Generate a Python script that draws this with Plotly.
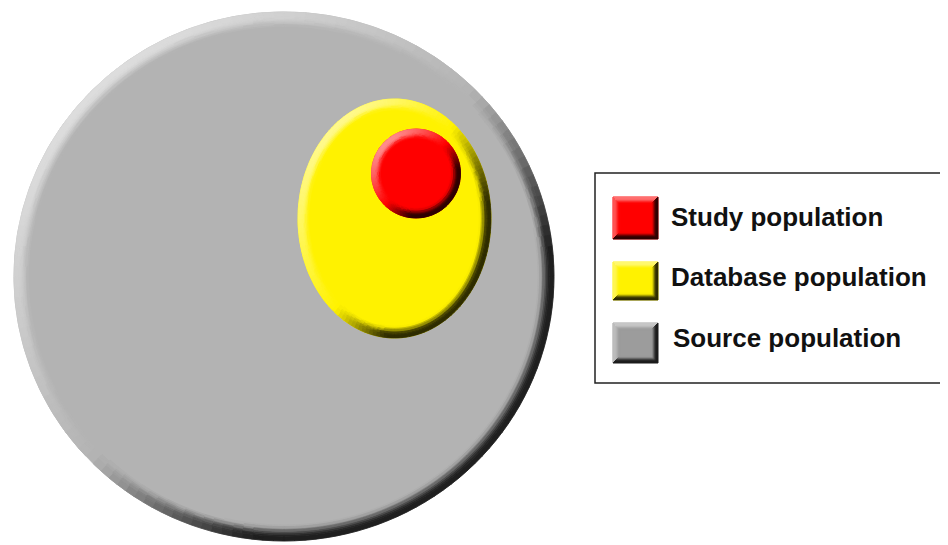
import numpy as np
import plotly.graph_objects as go

# ---- data ----
labels = ["Study population", "Database population", "Source population"]
base_colors = [(255, 0, 0), (255, 242, 0), (179, 179, 179)]

# ---- geometry (page pixel space, y downward) ----
W, H = 948, 545
PAGE_MARGIN = 8  # default body margin of the html page
ellipses = {  # label: (cx, cy, rx, ry, bevel width)
    "Source population": (284, 276.5, 270, 264.5, 16),
    "Database population": (394.5, 218.5, 96.5, 119.5, 12),
    "Study population": (416, 173.5, 44.5, 44.5, 10),
}
draw_order = ["Source population", "Database population", "Study population"]
squares = {
    "Study population": (613, 197, 658, 239),
    "Database population": (613, 262, 658, 300),
    "Source population": (613, 323, 658, 363),
}
square_tone = {"Study population": 1.0, "Database population": 1.0, "Source population": 0.87}
text_pos = {
    "Study population": (669, 217),
    "Database population": (669, 277),
    "Source population": (671, 338),
}
LIGHT, DARK = 0.55, 0.82
color_of = dict(zip(labels, base_colors))


def shade(base, m):
    if m >= 0:
        c = [b + (255 - b) * m * LIGHT for b in base]
    else:
        c = [b * (1 + m * DARK) for b in base]
    return "rgb(%d,%d,%d)" % tuple(int(round(v)) for v in c)


def falloff(t):
    u = np.clip((t - 0.3) / 0.7, 0, 1)
    return 1 - u * u * (3 - 2 * u)


def qm(s, f):
    s = np.clip(1.6 * s, -1, 1) if s < 0 else s
    return round(s * f * 40) / 40


def add_polys(fig, polys):
    groups = {}
    for c, xs, ys in polys:
        g = groups.setdefault(c, ([], []))
        g[0].extend(list(xs) + [xs[0], None])
        g[1].extend(list(ys) + [ys[0], None])
    for c, (xs, ys) in groups.items():
        fig.add_trace(go.Scatter(x=xs, y=ys, mode="lines", fill="toself",
                                 fillcolor=c, line=dict(color=c, width=0.8),
                                 hoverinfo="skip", showlegend=False))


def ellipse_polys(cx, cy, rx, ry, base, w, nb=10, ns=160):
    polys = []
    th = np.linspace(0, 2 * np.pi, 361)
    polys.append((shade(base, 0), cx + rx * np.cos(th), cy + ry * np.sin(th)))
    for j in range(nb):
        d0, d1 = w * j / nb, w * (j + 1) / nb
        f = falloff((j + 0.5) / nb)
        for k in range(ns):
            a0, a1 = 2 * np.pi * k / ns, 2 * np.pi * (k + 1) / ns
            am = (a0 + a1) / 2
            nx, ny = np.cos(am) / rx, np.sin(am) / ry
            n = np.hypot(nx, ny)
            s = -(nx + ny) / n / np.sqrt(2)
            m = qm(s, f)
            if m == 0:
                continue
            aa = np.linspace(a0, a1, 3)
            xs = np.concatenate([cx + (rx - d0) * np.cos(aa), cx + (rx - d1) * np.cos(aa[::-1])])
            ys = np.concatenate([cy + (ry - d0) * np.sin(aa), cy + (ry - d1) * np.sin(aa[::-1])])
            polys.append((shade(base, m), xs, ys))
    return polys


def square_polys(x0, y0, x1, y1, base, w=7, nb=7):
    polys = [(shade(base, 0), [x0, x1, x1, x0], [y0, y0, y1, y1])]
    for j in range(nb):
        d0, d1 = w * j / nb, w * (j + 1) / nb
        f = falloff((j + 0.5) / nb)
        sides = [
            (0.8, [x0 + d0, x1 - d0, x1 - d1, x0 + d1], [y0 + d0, y0 + d0, y0 + d1, y0 + d1]),
            (0.6, [x0 + d0, x0 + d1, x0 + d1, x0 + d0], [y0 + d0, y0 + d1, y1 - d1, y1 - d0]),
            (-1.0, [x1 - d0, x1 - d0, x1 - d1, x1 - d1], [y0 + d0, y1 - d0, y1 - d1, y0 + d1]),
            (-1.0, [x0 + d0, x1 - d0, x1 - d1, x0 + d1], [y1 - d0, y1 - d0, y1 - d1, y1 - d1]),
        ]
        for s, xs, ys in sides:
            m = qm(s, f)
            if m == 0:
                continue
            polys.append((shade(base, m), xs, ys))
    return polys


fig = go.Figure()
for lab in draw_order:
    cx, cy, rx, ry, w = ellipses[lab]
    add_polys(fig, ellipse_polys(cx, cy, rx, ry, color_of[lab], w))

for lab in labels:
    x0, y0, x1, y1 = squares[lab]
    base = tuple(v * square_tone[lab] for v in color_of[lab])
    add_polys(fig, square_polys(x0, y0, x1, y1, base))
    tx, ty = text_pos[lab]
    fig.add_annotation(x=tx, y=ty, text=lab, showarrow=False, xanchor="left",
                       yanchor="middle", xref="x", yref="y",
                       font=dict(family="Liberation Sans, Arial", size=26, color="#111111",
                                 weight="bold"))

fig.add_shape(type="rect", x0=595, y0=173, x1=955, y1=383, xref="x", yref="y",
              line=dict(color="#222222", width=1.5), fillcolor="rgba(0,0,0,0)")

fig.update_layout(width=W - PAGE_MARGIN, height=H - PAGE_MARGIN,
                  margin=dict(l=0, r=0, t=0, b=0),
                  paper_bgcolor="white", plot_bgcolor="white", showlegend=False)
fig.update_xaxes(range=[PAGE_MARGIN, W], visible=False, fixedrange=True)
fig.update_yaxes(range=[H, PAGE_MARGIN], visible=False, fixedrange=True)
fig.write_html("out.html", config={"displayModeBar": False})
